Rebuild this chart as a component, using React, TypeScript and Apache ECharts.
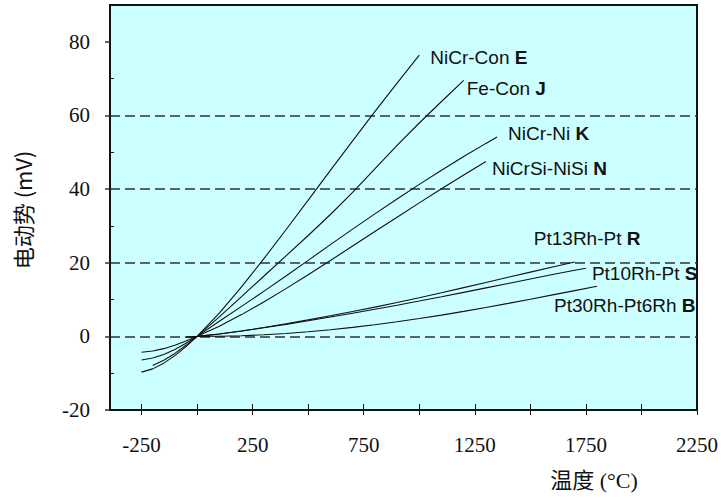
import React, { useEffect, useRef } from "react";
import * as echarts from "echarts";

// Thermocouple curves: temperature (°C) and EMF (mV)
const E_T = [-250, -200, -150, -100, -50, 0, 100, 200, 300, 400, 500, 600, 700, 800, 900, 1000];
const E_MV = [-9.72, -8.83, -7.28, -5.24, -2.79, 0, 6.32, 13.42, 21.04, 28.95, 37.0, 45.09, 53.11, 61.02, 68.79, 76.37];

const J_T = [-200, -150, -100, -50, 0, 100, 200, 300, 400, 500, 600, 700, 800, 900, 1000, 1100, 1200];
const J_MV = [-7.89, -6.5, -4.63, -2.43, 0, 5.27, 10.78, 16.33, 21.85, 27.39, 33.1, 39.13, 45.49, 51.88, 57.95, 63.79, 69.55];

const K_T = [-250, -200, -150, -100, -50, 0, 100, 200, 300, 400, 500, 600, 700, 800, 900, 1000, 1100, 1200, 1300, 1350];
const K_MV = [-6.4, -5.89, -4.91, -3.55, -1.89, 0, 4.1, 8.14, 12.21, 16.4, 20.64, 24.91, 29.13, 33.28, 37.33, 41.28, 45.12, 48.84, 52.41, 54.14];

const N_T = [-250, -200, -150, -100, -50, 0, 100, 200, 300, 400, 500, 600, 700, 800, 900, 1000, 1100, 1200, 1300];
const N_MV = [-4.31, -3.99, -3.34, -2.41, -1.27, 0, 2.77, 5.91, 9.34, 12.97, 16.75, 20.61, 24.53, 28.46, 32.37, 36.26, 40.09, 43.85, 47.51];

const R_T = [-50, 0, 100, 200, 300, 400, 500, 600, 700, 800, 900, 1000, 1100, 1200, 1300, 1400, 1500, 1600, 1700];
const R_MV = [-0.23, 0, 0.65, 1.47, 2.4, 3.41, 4.47, 5.58, 6.74, 7.95, 9.21, 10.51, 11.85, 13.23, 14.63, 16.04, 17.45, 18.85, 20.22];

const S_T = [-50, 0, 100, 200, 300, 400, 500, 600, 700, 800, 900, 1000, 1100, 1200, 1300, 1400, 1500, 1600, 1700, 1750];
const S_MV = [-0.24, 0, 0.65, 1.44, 2.32, 3.26, 4.23, 5.24, 6.28, 7.35, 8.45, 9.59, 10.76, 11.95, 13.16, 14.37, 15.58, 16.78, 17.95, 18.5];

const B_T = [0, 100, 200, 300, 400, 500, 600, 700, 800, 900, 1000, 1100, 1200, 1300, 1400, 1500, 1600, 1700, 1800];
const B_MV = [0, 0.03, 0.18, 0.43, 0.79, 1.24, 1.79, 2.43, 3.15, 3.96, 4.83, 5.78, 6.79, 7.85, 8.96, 10.1, 11.26, 12.43, 13.59];

const SERIES_NAMES = ["NiCr-Con", "Fe-Con", "NiCr-Ni", "NiCrSi-NiSi", "Pt13Rh-Pt", "Pt10Rh-Pt", "Pt30Rh-Pt6Rh"];
const SERIES_CODES = ["E", "J", "K", "N", "R", "S", "B"];

const X_TICKS = [-250, 0, 250, 500, 750, 1000, 1250, 1500, 1750, 2000, 2250];
const X_LABELS = [-250, 250, 750, 1250, 1750, 2250];
const Y_TICKS = [-20, 0, 20, 40, 60, 80];
const Y_MINOR = [-10, 10, 30, 50, 70];

const X_TITLE = "温度 (°C)";
const Y_TITLE = "电动势 (mV)";

const SANS = "'Liberation Sans', Arial, 'Noto Sans CJK SC', sans-serif";
const SERIF = "'Liberation Serif', 'Times New Roman', 'Noto Sans CJK SC', serif";

const LABEL_OFFSETS: [number, number][] = [
  [11, 2],
  [3, 8],
  [11, -4],
  [6, 7],
  [-41, -23],
  [6, 5],
  [-43, 19],
];

export default function App() {
  const ref = useRef<HTMLDivElement>(null);
  useEffect(() => {
    if (!ref.current) return;
    const chart = echarts.init(ref.current, undefined, { renderer: "svg" });
    const temps = [E_T, J_T, K_T, N_T, R_T, S_T, B_T];
    const mvs = [E_MV, J_MV, K_MV, N_MV, R_MV, S_MV, B_MV];
    const series = temps.map((t, i) => ({
      type: "line",
      name: SERIES_NAMES[i],
      data: t.map((v, j) => [v, mvs[i][j]]),
      smooth: false,
      symbol: "none",
      xAxisIndex: 0,
      yAxisIndex: 0,
      lineStyle: { color: "#111", width: 1.1 },
      endLabel: {
        show: true,
        distance: 0,
        offset: LABEL_OFFSETS[i],
        align: "left",
        verticalAlign: "middle",
        formatter: `{n|${SERIES_NAMES[i]} }{b|${SERIES_CODES[i]}}`,
        rich: {
          n: { fontFamily: SANS, fontSize: 19, color: "#111" },
          b: { fontFamily: SANS, fontSize: 19, fontWeight: "bold", color: "#111" },
        },
      },
      z: 3,
    }));

    const plain = (v: number) => String(v);

    const xBase = {
      type: "value",
      min: -392,
      max: 2250,
      position: "bottom",
      splitLine: { show: false },
    };
    const yBase = {
      type: "value",
      min: -20,
      max: 90,
      interval: 20,
      position: "left",
    };

    chart.setOption({
      animation: false,
      backgroundColor: "#fff",
      grid: {
        left: 110,
        right: 23,
        top: 5,
        bottom: 88,
        show: true,
        backgroundColor: "#ccffff",
        borderColor: "#111",
        borderWidth: 2,
      },
      xAxis: [
        {
          ...xBase,
          axisLine: { show: true, onZero: false, lineStyle: { color: "#111", width: 2 } },
          axisTick: { show: true, inside: true, length: 6, customValues: X_TICKS, lineStyle: { color: "#111", width: 1 } },
          axisLabel: {
            customValues: X_LABELS,
            formatter: plain,
            margin: 24,
            fontFamily: "Liberation Serif",
            fontSize: 21,
            color: "#111",
          },
        },
        {
          ...xBase,
          axisLine: { show: false, onZero: false },
          axisTick: { show: true, inside: false, length: 5, customValues: X_TICKS, lineStyle: { color: "#111", width: 1 } },
          axisLabel: { show: false },
        },
      ],
      yAxis: [
        {
          ...yBase,
          axisLine: { show: false, onZero: false },
          axisTick: { show: true, inside: true, length: 4, customValues: Y_MINOR, lineStyle: { color: "#111", width: 1 } },
          axisLabel: { show: false },
          splitLine: { show: false },
        },
        {
          ...yBase,
          axisLine: { show: true, onZero: false, lineStyle: { color: "#111", width: 2 } },
          axisTick: { show: true, inside: false, length: 5, customValues: Y_TICKS, lineStyle: { color: "#333", width: 1.5 } },
          axisLabel: {
            show: true,
            customValues: Y_TICKS,
            formatter: plain,
            margin: 20,
            fontFamily: "Liberation Serif",
            fontSize: 21,
            color: "#111",
          },
          splitLine: {
            show: true,
            showMinLine: false,
            showMaxLine: false,
            lineStyle: { color: "#333", width: 1.5, type: [10, 5] },
          },
        },
      ],
      graphic: [
        {
          type: "text",
          x: 22,
          y: 210,
          rotation: Math.PI / 2,
          style: {
            text: Y_TITLE,
            font: `22px 'Noto Sans CJK SC', ${SANS}`,
            fill: "#111",
            align: "center",
            verticalAlign: "middle",
          },
        },
        {
          type: "text",
          x: 594,
          y: 480,
          style: {
            text: X_TITLE,
            font: `22px ${SERIF}`,
            fill: "#111",
            align: "center",
            verticalAlign: "middle",
          },
        },
      ],
      series,
    });
    return () => chart.dispose();
  }, []);
  return (
    <div
      ref={ref}
      style={{ position: "fixed", left: 0, top: 0, width: 721, height: 498 }}
    />
  );
}
